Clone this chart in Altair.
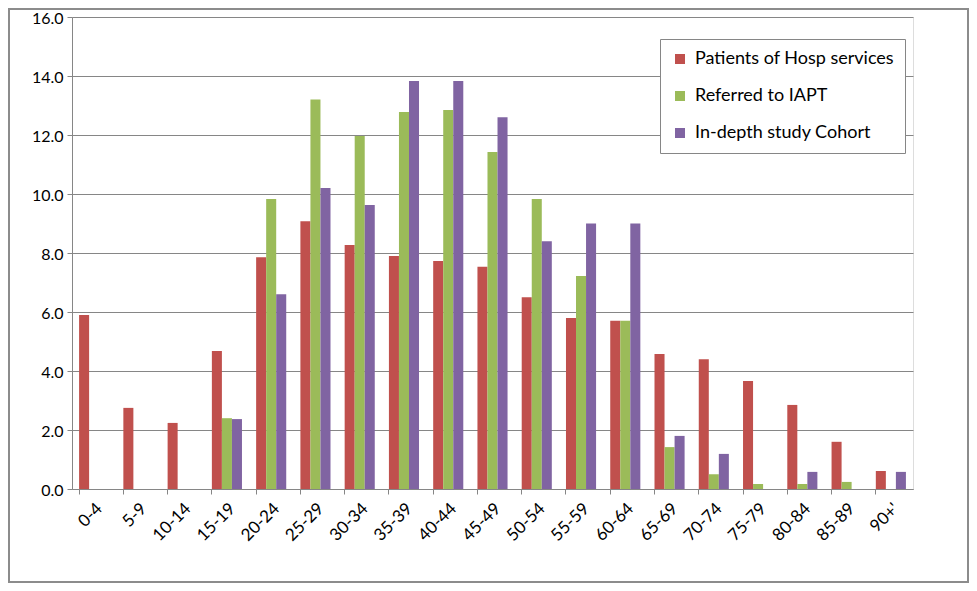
import altair as alt
import pandas as pd

ages = ["0-4", "5-9", "10-14", "15-19", "20-24", "25-29", "30-34", "35-39", "40-44",
        "45-49", "50-54", "55-59", "60-64", "65-69", "70-74", "75-79", "80-84", "85-89", "90+'"]
series = ["Patients of Hosp services", "Referred to IAPT", "In-depth study Cohort"]
hosp = [5.9, 2.75, 2.24, 4.68, 7.86, 9.08, 8.27, 7.9, 7.73, 7.53, 6.5, 5.8, 5.7, 4.58, 4.4, 3.66, 2.85, 1.6, 0.61]
iapt = [0, 0, 0, 2.4, 9.83, 13.2, 11.97, 12.78, 12.85, 11.42, 9.83, 7.22, 5.7, 1.42, 0.5, 0.17, 0.17, 0.24, 0]
cohort = [0, 0, 0, 2.37, 6.6, 10.2, 9.63, 13.83, 13.83, 12.6, 8.4, 9.0, 9.0, 1.8, 1.19, 0, 0.58, 0, 0.58]
colors = ["#C0504D", "#9BBB59", "#8064A2"]

rows = []
for s, vals in zip(series, [hosp, iapt, cohort]):
    for a, v in zip(ages, vals):
        rows.append({"age": a, "series": s, "value": v})
df = pd.DataFrame(rows)

FONT = "Lato"
GRAY = "#868686"

bars = alt.Chart(df).mark_bar().encode(
    x=alt.X("age:N", sort=ages, title=None,
            scale=alt.Scale(paddingInner=0.32, paddingOuter=0.16),
            axis=alt.Axis(labelAngle=-45, labelFontSize=17, labelFont=FONT, labelColor="#000000",
                          domainColor=GRAY, tickColor=GRAY, tickSize=5, bandPosition=0,
                          labelPadding=6, grid=False)),
    xOffset=alt.XOffset("series:N", sort=series, scale=alt.Scale(paddingInner=0, paddingOuter=0)),
    y=alt.Y("value:Q", title=None,
            scale=alt.Scale(domain=[0, 16], nice=False),
            axis=alt.Axis(values=[0, 2, 4, 6, 8, 10, 12, 14, 16], format=".1f",
                          labelFontSize=16, labelFont=FONT, labelColor="#000000",
                          labelOffset=1,
                          domainColor=GRAY, tickColor=GRAY, tickSize=5, labelPadding=4,
                          gridColor=GRAY, gridWidth=1)),
    color=alt.Color("series:N", sort=series, scale=alt.Scale(domain=series, range=colors),
                    legend=alt.Legend(title=None, orient="none", legendX=588, legendY=22,
                                      strokeColor=GRAY, fillColor="white", padding=11,
                                      symbolType="square", symbolSize=100, symbolStrokeWidth=0,
                                      labelFontSize=18, labelFont=FONT, labelColor="#000000",
                                      rowPadding=19, labelOffset=6, labelLimit=400)),
)

frame = alt.Chart(pd.DataFrame({"f": [0]})).mark_rect(
    fill=None, stroke="#8c8c8c", strokeWidth=2
).encode(
    x=alt.value(-63), x2=alt.value(841 + 55), y=alt.value(-8), y2=alt.value(472 + 93)
)

chart = alt.layer(bars, frame).properties(
    width=841, height=472,
    padding={"left": 64, "top": 9, "right": 56, "bottom": 94},
    autosize=alt.AutoSizeParams(type="none"),
).configure_view(stroke=None).configure(background="white")

chart.save("out.html", embed_options={"renderer": "svg", "actions": False})
